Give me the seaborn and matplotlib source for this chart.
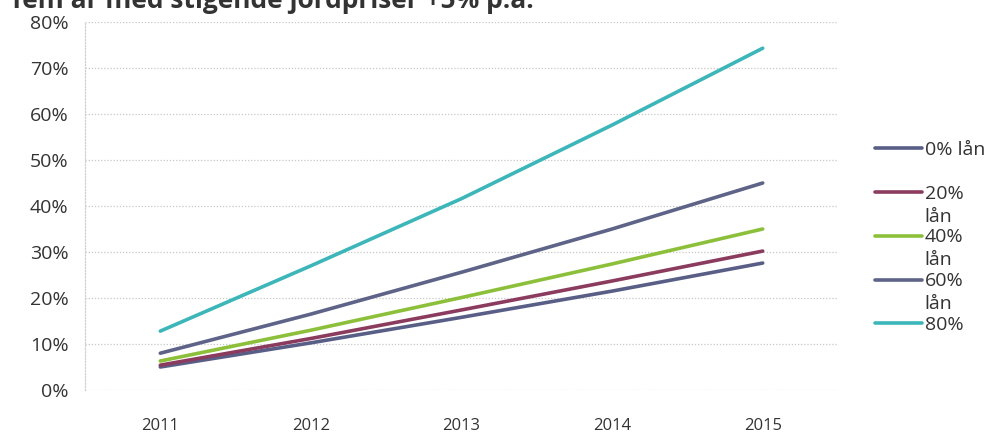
import pandas as pd
import seaborn as sns
import matplotlib.pyplot as plt
from matplotlib.ticker import FixedLocator, FuncFormatter

# data (return in %)
years = [2011, 2012, 2013, 2014, 2015]
laan_0 = [5.0, 10.25, 15.8, 21.5, 27.6]
laan_20 = [5.4, 11.2, 17.4, 23.7, 30.2]
laan_40 = [6.3, 13.0, 20.1, 27.4, 35.0]
laan_60 = [8.0, 16.5, 25.6, 35.0, 45.0]
laan_80 = [12.8, 27.0, 41.6, 57.6, 74.3]
series_names = ["0% lån", "20% lån", "40% lån", "60% lån", "80% lån"]
# legend text as wrapped in the original (80% entry is cut off there)
legend_labels = ["0% lån", "\n20%", "lån\n40%", "lån\n60%", "lån\n80%"]
colors = ["#585e86", "#8b3b5e", "#8dc03a", "#5e6388", "#3cb6b9"]
title = "fem år med stigende jordpriser +5% p.a."

rows = []
for name, vals in zip(series_names, [laan_0, laan_20, laan_40, laan_60, laan_80]):
    for y, v in zip(years, vals):
        rows.append((y, v, name))
df = pd.DataFrame(rows, columns=["år", "afkast", "lån"])

sns.set_style("white")
plt.rcParams["font.family"] = ["Open Sans", "DejaVu Sans"]

fig = plt.figure(figsize=(9.98, 4.33), dpi=100)
ax = fig.add_axes([85 / 998, 1 - 390 / 433, (838 - 85) / 998, (390 - 22) / 433])

sns.lineplot(data=df, x="år", y="afkast", hue="lån", hue_order=series_names,
             palette=colors, linewidth=2.6, ax=ax, legend=True)

ax.set_xlim(2010.5, 2015.5)
ax.set_ylim(0, 80)
ax.set_xticks(years)
ax.set_xticklabels([str(y) for y in years])
ax.xaxis.set_minor_locator(FixedLocator([2011.5, 2012.5, 2013.5, 2014.5]))
ax.set_yticks(range(0, 81, 10))
ax.yaxis.set_major_formatter(FuncFormatter(lambda v, p: f"{int(v)}%"))
ax.set_xlabel("")
ax.set_ylabel("")

ax.grid(axis="y", color="#c8c8c8", linestyle=(0, (1, 1.5)), linewidth=0.9)
ax.set_axisbelow(True)
for s in ["top", "right", "bottom"]:
    ax.spines[s].set_visible(False)
ax.spines["left"].set_color("#d0d0d0")
ax.spines["left"].set_linestyle((0, (1, 1.5)))
ax.spines["left"].set_linewidth(0.9)

ax.tick_params(axis="x", which="major", length=0, pad=20, labelsize=12, colors="#333333")
ax.tick_params(axis="x", which="minor", length=4, color="#d8d8d8", width=0.8, direction="out")
ax.tick_params(axis="y", length=0, pad=12, labelsize=14, colors="#333333")

handles, _ = ax.get_legend_handles_labels()
leg = ax.legend(handles, legend_labels, loc="upper left",
                bbox_to_anchor=(875 / 998, 1 - 141 / 433),
                bbox_transform=fig.transFigure, frameon=False, fontsize=14,
                handlelength=2.4, handletextpad=0.15, labelspacing=0.25,
                borderpad=0, borderaxespad=0)
for t in leg.get_texts():
    t.set_color("#333333")
# two-line entries: put the handle next to the lower line
for line, lab in zip(leg.get_lines(), legend_labels):
    line.set_linewidth(2.6)
    if "\n" in lab:
        line.set_ydata([y - 6.5 for y in line.get_ydata()])

fig.text(12 / 998, 1 - 8 / 433, title, fontsize=19, fontweight="bold",
         color="#333333", va="baseline", ha="left")

fig.savefig("out.png", dpi=100)
